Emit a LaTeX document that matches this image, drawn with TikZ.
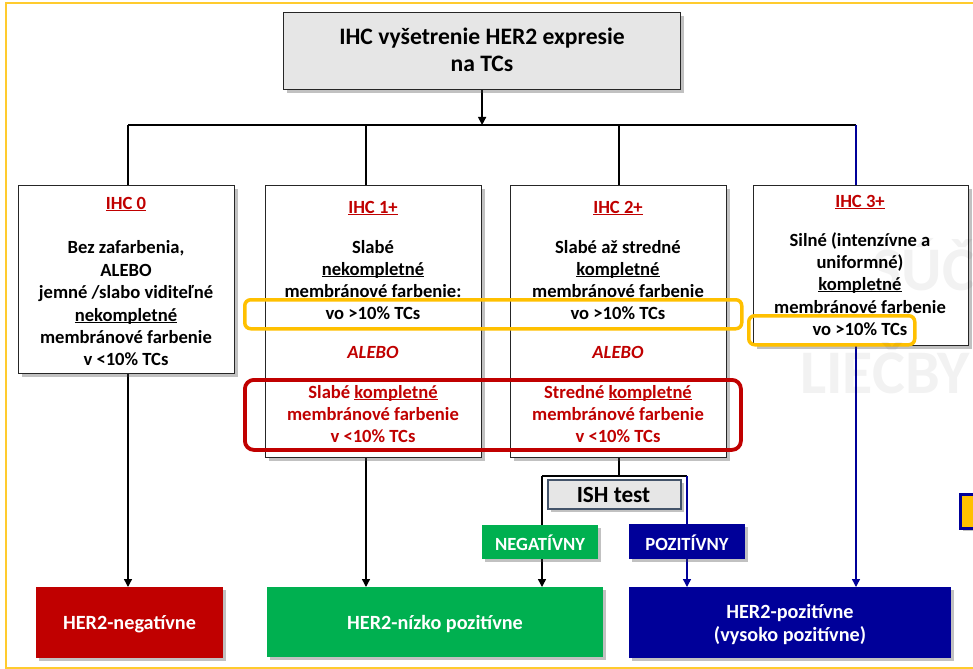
\documentclass[tikz,border=0pt]{standalone}
\usepackage{fontspec}
\setmainfont{Carlito}
\usetikzlibrary{arrows.meta,shadows}
\definecolor{cred}{HTML}{C00000}
\definecolor{cgreen}{HTML}{00B050}
\definecolor{cblue}{HTML}{000099}
\definecolor{corange}{HTML}{FFC000}
\definecolor{cframe}{HTML}{FFCB2E}
\definecolor{cgray}{HTML}{E6E6E6}
\definecolor{cslate}{HTML}{44546A}
\newcommand\myul[1]{\setbox0\hbox{#1}\rlap{\rule[-2.4bp]{\wd0}{1.1bp}}\box0}
\pgfdeclarelayer{background}
\pgfsetlayers{background,main}
\tikzset{
  shad/.style={drop shadow={shadow xshift=3bp,shadow yshift=-3bp,opacity=0.35,fill=black!70}},
  ihcbox/.style={draw=black!85,line width=1.2bp,fill=white,shad,anchor=north west,inner sep=0},
  body/.style={font=\fontsize{18.6bp}{22.5bp}\selectfont\bfseries,anchor=base,inner sep=0},
  redtxt/.style={body,text=cred},
  conn/.style={line width=1.4bp,black},
  connb/.style={line width=1.4bp,cblue},
  arr/.style={conn,-{Triangle[length=8bp,width=8bp]}},
  arrb/.style={connb,-{Triangle[length=8bp,width=8bp]}},
  hlorange/.style={draw=corange,line width=3.5bp,rounded corners=6bp,anchor=north west,inner sep=0},
  hlred/.style={draw=cred,line width=3.8bp,rounded corners=9bp,anchor=north west,inner sep=0},
  resbox/.style={anchor=north west,inner sep=0,shad,draw=none},
  restxt/.style={font=\fontsize{20.2bp}{23.3bp}\selectfont\bfseries,text=white,anchor=base,inner sep=0},
  labtxt/.style={font=\fontsize{18.6bp}{22bp}\selectfont\bfseries,text=white,anchor=base,inner sep=0},
}
\begin{document}
\begin{tikzpicture}[x=1bp,y=-1bp]
\useasboundingbox (0,0) rectangle (973,669);
% boxes
\node[ihcbox,fill=cgray,minimum width=397bp,minimum height=77bp] (top) at (283,12) {};
\node[ihcbox,minimum width=216bp,minimum height=188bp] (b0) at (18,185) {};
\node[ihcbox,minimum width=216bp,minimum height=272bp] (b1) at (265,185) {};
\node[ihcbox,minimum width=216bp,minimum height=272bp] (b2) at (510,185) {};
\node[ihcbox,minimum width=215bp,minimum height=160bp] (b3) at (753,185) {};
\node[ihcbox,fill=cgray,draw=cslate,line width=1.8bp,minimum width=133bp,minimum height=29bp] (ish) at (547,479) {};
\node[resbox,fill=cgreen,minimum width=116bp,minimum height=34bp] (neg) at (482,525) {};
\node[resbox,fill=cblue,minimum width=116bp,minimum height=35bp] (pos) at (629,524) {};
\node[resbox,fill=cred,minimum width=187bp,minimum height=71bp] (rneg) at (36,587) {};
\node[resbox,fill=cgreen,minimum width=336bp,minimum height=70bp] (rlow) at (267,587) {};
\node[resbox,fill=cblue,minimum width=322bp,minimum height=71bp] (rpos) at (629,587) {};
\node[resbox,fill=corange,draw=cblue,line width=2.5bp,minimum width=40bp,minimum height=34bp] (ybox) at (959,493) {};
% connectors
\coordinate (j0) at (128,125);
\coordinate (j1) at (366,125);
\coordinate (j2) at (619,125);
\coordinate (j3) at (856,125);
\coordinate (k2) at (619,476);
\coordinate (kl) at (542,476);
\coordinate (kr) at (687,476);
\begin{pgfonlayer}{background}
\draw[cframe,line width=2bp] (6,3) rectangle (1000,668);
\draw[arr] (top.south) -- (top.south |- j0);
\draw[conn] (j0) -- (j3);
\draw[conn] (j0) -- (j0 |- b0.north);
\draw[conn] (j1) -- (j1 |- b1.north);
\draw[conn] (j2) -- (j2 |- b2.north);
\draw[connb] (j3) -- (j3 |- b3.north);
\draw[arr] (b0.south -| j0) -- (j0 |- rneg.north);
\draw[arr] (b1.south -| j1) -- (j1 |- rlow.north);
\draw[conn] (b2.south -| k2) -- (k2);
\draw[conn] (kl) -- (kr);
\draw[arr] (kl) -- (kl |- rlow.north);
\draw[arrb] (kr) -- (kr |- rpos.north);
\draw[arrb] (b3.south -| j3) -- (j3 |- rpos.north);
\end{pgfonlayer}
% highlights
\node[hlorange,minimum width=497bp,minimum height=29bp] (o1) at (243,298) {};
\node[hlorange,minimum width=166bp,minimum height=29bp] (o2) at (747,314) {};
\node[hlred,minimum width=496bp,minimum height=70bp] (r1) at (243,378) {};
% texts
\node[body,font=\fontsize{23.6bp}{27bp}\selectfont\bfseries] (tt1) at (482,45) {IHC vyšetrenie HER2 expresie};
\node[body,font=\fontsize{23.6bp}{27bp}\selectfont\bfseries] (tt2) at (482,72) {na TCs};
% IHC 0
\node[redtxt] (a0) at (126,209) {\myul{IHC 0}};
\node[body] (a1) at (126,253) {Bez zafarbenia,};
\node[body] (a2) at (126,276) {ALEBO};
\node[body] (a3) at (126,298) {jemné /slabo viditeľné};
\node[body] (a4) at (126,321) {\myul{nekompletné}};
\node[body] (a5) at (126,343) {membránové farbenie};
\node[body] (a6) at (126,365) {v <10\% TCs};
% IHC 1+
\node[redtxt] (c0) at (373,213) {\myul{IHC 1+}};
\node[body] (c1) at (373,253) {Slabé};
\node[body] (c2) at (373,275) {\myul{nekompletné}};
\node[body] (c3) at (373,297) {membránové farbenie:};
\node[body] (c4) at (373,319) {vo >10\% TCs};
\node[redtxt,font=\fontsize{18.6bp}{22.5bp}\selectfont\bfseries\itshape] (c5) at (373,358) {ALEBO};
\node[redtxt] (c6) at (373,398) {Slabé \myul{kompletné}};
\node[redtxt] (c7) at (373,420) {membránové farbenie};
\node[redtxt] (c8) at (373,442) {v <10\% TCs};
% IHC 2+
\node[redtxt] (d0) at (618,213) {\myul{IHC 2+}};
\node[body] (d1) at (618,253) {Slabé až stredné};
\node[body] (d2) at (618,275) {\myul{kompletné}};
\node[body] (d3) at (618,297) {membránové farbenie};
\node[body] (d4) at (618,319) {vo >10\% TCs};
\node[redtxt,font=\fontsize{18.6bp}{22.5bp}\selectfont\bfseries\itshape] (d5) at (618,358) {ALEBO};
\node[redtxt] (d6) at (618,398) {Stredné \myul{kompletné}};
\node[redtxt] (d7) at (618,420) {membránové farbenie};
\node[redtxt] (d8) at (618,442) {v <10\% TCs};
% IHC 3+
\node[redtxt] (e0) at (860,207) {\myul{IHC 3+}};
\node[body] (e1) at (860,246) {Silné (intenzívne a};
\node[body] (e2) at (860,268) {uniformné)};
\node[body] (e3) at (860,290) {\myul{kompletné}};
\node[body] (e4) at (860,313) {membránové farbenie};
\node[body] (e5) at (860,335) {vo >10\% TCs};
% lower labels
\node[body,font=\fontsize{23.2bp}{26bp}\selectfont\bfseries] (ishT) at (613.5,502) {ISH test};
\node[labtxt] (negT) at (540,550) {NEGATÍVNY};
\node[labtxt] (posT) at (687,550) {POZITÍVNY};
\node[restxt] (rnegT) at (129.5,629) {HER2-negatívne};
\node[restxt] (rlowT) at (435,629) {HER2-nízko pozitívne};
\node[restxt] (rposT1) at (790,618) {HER2-pozitívne};
\node[restxt] (rposT2) at (790,641) {(vysoko pozitívne)};
% faint watermark
\node[anchor=base west,inner sep=0,text=black,opacity=0.05,font=\fontsize{62bp}{62bp}\selectfont\bfseries] (wm1) at (800,393) {LIEČBY};
\node[anchor=base west,inner sep=0,text=black,opacity=0.05,font=\fontsize{62bp}{62bp}\selectfont\bfseries] (wm2) at (872,290) {SÚČ};
\end{tikzpicture}
\end{document}
